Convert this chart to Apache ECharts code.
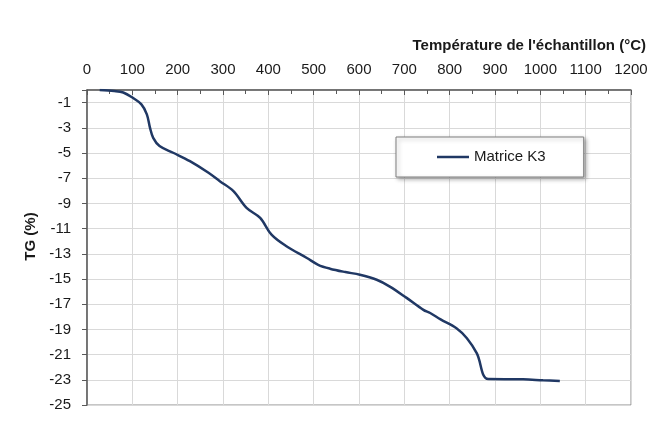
<!DOCTYPE html>
<html>
<head>
<meta charset="utf-8">
<script src="https://cdn.jsdelivr.net/npm/echarts@6/dist/echarts.min.js"></script>
<style>
html,body{margin:0;padding:0;background:#fff;}
#chart{width:662px;height:424px;}
</style>
</head>
<body>
<div id="chart"></div>
<script>
// Data
var temperature = [28, 60, 80, 100, 120, 132, 139, 146, 160, 190, 227, 268, 293, 323, 352, 382, 407, 440, 485, 510, 536, 570, 602, 639, 668, 705, 742, 757, 780, 815, 838, 860, 885, 962, 1006, 1043];
var tgK3 = [0, -0.08, -0.2, -0.6, -1.14, -1.93, -3.0, -3.8, -4.45, -4.98, -5.65, -6.57, -7.24, -8.03, -9.36, -10.15, -11.48, -12.4, -13.33, -13.87, -14.18, -14.45, -14.66, -15.06, -15.6, -16.5, -17.45, -17.7, -18.2, -18.9, -19.7, -20.9, -22.94, -22.96, -23.04, -23.1];
var seriesName = 'Matrice K3';
var xName = "Température de l'échantillon (°C)";
var yName = 'TG (%)';

var pts = temperature.map(function (t, i) { return [t, tgK3[i]]; });
var font = '"Liberation Sans", Arial, sans-serif';

var chart = echarts.init(document.getElementById('chart'), null, {renderer: 'canvas'});
chart.setOption({
  animation: false,
  backgroundColor: '#ffffff',
  textStyle: {fontFamily: font},
  grid: {
    left: 87, top: 90, right: 31, bottom: 19,
    show: true, borderColor: '#8c8c8c', borderWidth: 1, backgroundColor: '#ffffff'
  },
  legend: {
    left: 396, top: 137,
    padding: [11, 38, 11, 41],
    backgroundColor: '#ffffff',
    borderColor: '#7f7f7f', borderWidth: 1,
    shadowBlur: 4, shadowOffsetX: 2, shadowOffsetY: 2, shadowColor: 'rgba(0,0,0,0.3)',
    icon: 'rect',
    itemWidth: 32, itemHeight: 2.5,
    textStyle: {fontFamily: font, fontSize: 15, color: '#1a1a1a', lineHeight: 18},
    data: [seriesName]
  },
  xAxis: {
    type: 'value', position: 'top',
    min: 0, max: 1200, interval: 100,
    name: xName, nameLocation: 'end', nameGap: 15,
    nameTextStyle: {fontFamily: font, fontSize: 15, fontWeight: 'bold', color: '#1a1a1a', align: 'right', verticalAlign: 'bottom', padding: [0, 0, 37, 0]},
    axisLine: {show: true, lineStyle: {color: '#595959', width: 1.5}},
    axisTick: {show: true, inside: true, length: 5, lineStyle: {color: '#595959'}},
    minorTick: {show: true, splitNumber: 2, length: 4, lineStyle: {color: '#595959'}},
    axisLabel: {
      fontFamily: font, fontSize: 15, color: '#1a1a1a', margin: 13,
      formatter: function (v) { return String(v); }
    },
    splitLine: {show: true, lineStyle: {color: '#d9d9d9', width: 1}}
  },
  yAxis: {
    type: 'value',
    min: -25, max: 0, interval: 2,
    name: yName, nameLocation: 'middle', nameRotate: 90, nameGap: 46,
    nameTextStyle: {fontFamily: font, fontSize: 15, fontWeight: 'bold', color: '#1a1a1a', padding: [0, 0, 0, 22]},
    axisLine: {show: true, onZero: false, lineStyle: {color: '#595959', width: 1.5}},
    axisTick: {show: true, inside: false, length: 5, lineStyle: {color: '#595959'}},
    axisLabel: {
      fontFamily: font, fontSize: 15, color: '#1a1a1a', margin: 16,
      formatter: function (v) { return v === 0 ? '' : String(v); }
    },
    splitLine: {show: true, lineStyle: {color: '#d9d9d9', width: 1}}
  },
  series: [{
    name: seriesName,
    type: 'line',
    data: pts,
    symbol: 'none',
    smooth: 0.35,
    lineStyle: {color: '#203864', width: 2.5},
    itemStyle: {color: '#203864'}
  }]
});
</script>
</body>
</html>
